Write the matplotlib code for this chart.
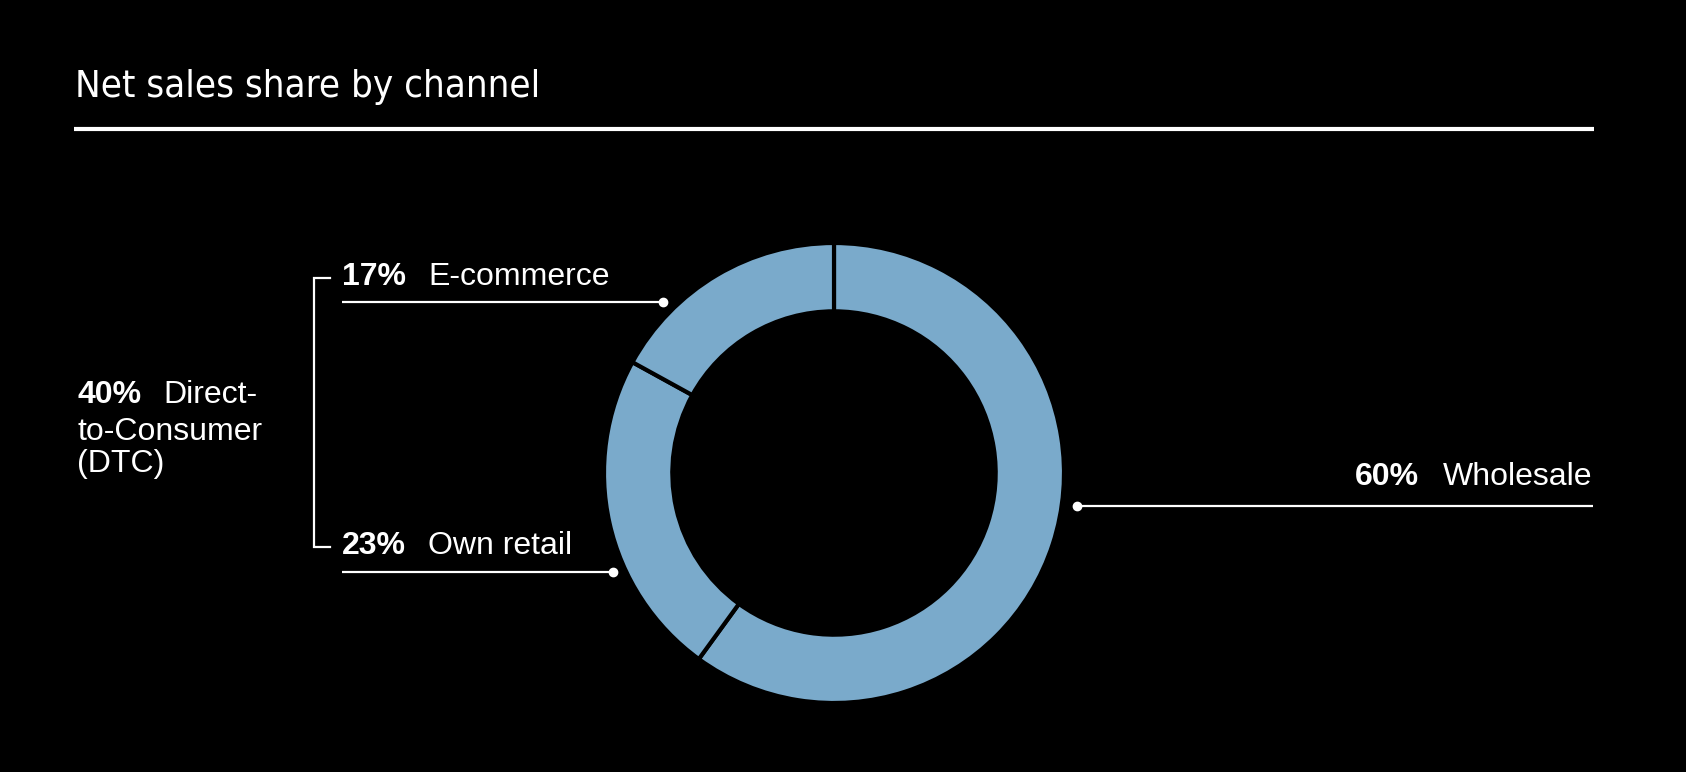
import numpy as np
import matplotlib
matplotlib.use("Agg")
import matplotlib.pyplot as plt

# data
channels = ["Wholesale", "Own retail", "E-commerce"]
shares = [60, 23, 17]
dtc_share = 40
ring_color = "#7aaacb"

W, H = 1686, 772
fig = plt.figure(figsize=(W / 100, H / 100), dpi=100, facecolor="black")

# background axes in pixel coordinates for text and leader lines
bg = fig.add_axes([0, 0, 1, 1])
bg.set_xlim(0, W)
bg.set_ylim(H, 0)
bg.axis("off")
bg.set_facecolor("black")

# donut
cx, cy, R = 834, 473, 230
pie_ax = fig.add_axes([(cx - R) / W, (H - cy - R) / H, 2 * R / W, 2 * R / H])
pie_ax.pie(shares, startangle=90, counterclock=False, colors=[ring_color] * 3,
           radius=1, wedgeprops=dict(width=0.297, edgecolor="black", linewidth=3))
pie_ax.set_xlim(-1, 1)
pie_ax.set_ylim(-1, 1)
pie_ax.set_aspect("equal")
pie_ax.axis("off")

title_font = ["DejaVu Sans"]
label_font = ["Liberation Sans", "DejaVu Sans"]
fs = 23

# title + rule
bg.text(75, 97, "Net sales share by channel", color="white", fontsize=27.5,
        family=title_font, fontstretch="condensed", va="baseline", ha="left")
bg.plot([74, 1594], [129, 129], color="white", lw=3, solid_capstyle="butt")

def pct_label(x, y, pct, name, gap=86):
    bg.text(x, y, f"{pct}%", color="white", fontsize=fs, fontweight="bold",
            family=label_font, va="baseline", ha="left")
    bg.text(x + gap, y, name, color="white", fontsize=fs,
            family=label_font, va="baseline", ha="left")

def leader(x0, x1, y, dot_x):
    bg.plot([x0, x1], [y, y], color="white", lw=1.6, solid_capstyle="butt")
    bg.plot([dot_x], [y], "o", color="white", markersize=6)

# E-commerce
pct_label(342, 285, shares[2], channels[2])
leader(342, 663, 302, 663)

# Own retail
pct_label(342, 554, shares[1], channels[1])
leader(342, 613, 572, 613)

# Wholesale (right aligned to the rule)
bg.text(1592, 485, channels[0], color="white", fontsize=fs,
        family=label_font, va="baseline", ha="right")
bg.text(1355, 485, f"{shares[0]}%", color="white", fontsize=fs, fontweight="bold",
        family=label_font, va="baseline", ha="left")
leader(1077, 1593, 506, 1077)

# DTC group label + bracket
pct_label(77, 403, dtc_share, "Direct-")
bg.text(77, 440, "to-Consumer", color="white", fontsize=fs,
        family=label_font, va="baseline", ha="left")
bg.text(77, 472, "(DTC)", color="white", fontsize=fs,
        family=label_font, va="baseline", ha="left")
bg.plot([330, 314, 314, 330], [278, 278, 547, 547], color="white", lw=1.6,
        solid_joinstyle="miter")

fig.savefig("out.png", dpi=100, facecolor="black")
